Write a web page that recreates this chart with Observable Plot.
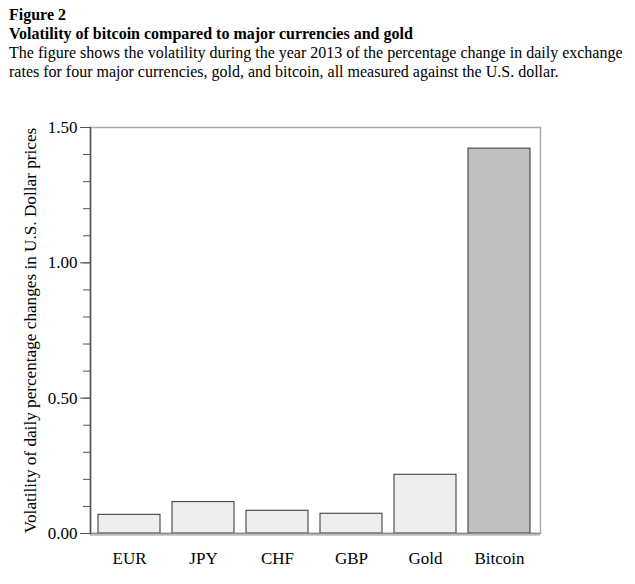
<!DOCTYPE html>
<html>
<head>
<meta charset="utf-8">
<script src="https://cdn.jsdelivr.net/npm/d3@7"></script>
<script src="https://cdn.jsdelivr.net/npm/@observablehq/plot@0.6"></script>
<style>
  body { margin: 0; background: #fff; font-family: "Liberation Serif", "Times New Roman", serif; color: #000; }
  #head { position: absolute; left: 9px; top: 5px; font-size: 16px; line-height: 19px; width: 626px; }
  #head .b { font-weight: bold; }
  #chart { position: absolute; left: 0; top: 100px; }
  #chart svg, #chart svg text { font-family: "Liberation Serif", "Times New Roman", serif !important; }
</style>
</head>
<body>
<div id="head">
  <div class="b">Figure 2</div>
  <div class="b">Volatility of bitcoin compared to major currencies and gold</div>
  <div>The figure shows the volatility during the year 2013 of the percentage change in daily exchange rates for four major currencies, gold, and bitcoin, all measured against the U.S. dollar.</div>
</div>
<div id="chart"></div>
<script>
const categories = ["EUR", "JPY", "CHF", "GBP", "Gold", "Bitcoin"];
const volatility = [0.069, 0.116, 0.084, 0.073, 0.217, 1.422];
const fills = ["#eeeeee", "#eeeeee", "#eeeeee", "#eeeeee", "#eeeeee", "#c0c0c0"];
const majorTicks = [0, 0.5, 1.0, 1.5];
const minorTicks = d3.range(0, 16).map(i => i / 10);
const yLabel = "Volatility of daily percentage changes in U.S. Dollar prices";

const data = categories.map((c, i) => ({category: c, value: volatility[i], fill: fills[i]}));
const serif = "'Liberation Serif', 'Times New Roman', serif";

const chart = Plot.plot({
  width: 635,
  height: 484,
  marginLeft: 90,
  marginRight: 95,
  marginTop: 27,
  marginBottom: 51,
  style: {fontFamily: serif, fontSize: "17px", color: "#000", background: "transparent"},
  x: {domain: categories, paddingInner: 0.166, paddingOuter: 0.085, align: 0.45, label: null},
  y: {domain: [0, 1.5], label: null},
  marks: [
    Plot.frame({stroke: "#aaa", strokeWidth: 1.5}),
    Plot.barY(data, {x: "category", y: "value", fill: "fill", stroke: "#333", strokeWidth: 1}),
    Plot.ruleY([0], {stroke: "#ccc", strokeWidth: 2, dy: 1.5}),
    Plot.ruleY([0], {stroke: "#888", strokeWidth: 1.5}),
    Plot.frame({anchor: "left", stroke: "#555", strokeWidth: 1.5}),
    Plot.axisY(minorTicks, {tickSize: 7, tickFormat: null, stroke: "#555", text: null}),
    Plot.axisY(majorTicks, {tickSize: 10, tickPadding: 3, tickFormat: d3.format(".2f"), stroke: "#555", fill: "#000", fontSize: 17, fontFamily: serif}),
    Plot.axisX({tickSize: 0, tickPadding: 18, fill: "#000", fontSize: 17, fontFamily: serif}),
    Plot.text([yLabel], {frameAnchor: "left", textAnchor: "middle", rotate: -90, dx: -60, fontSize: 17.2, fill: "#000", fontFamily: serif})
  ]
});
document.getElementById("chart").appendChild(chart);
</script>
</body>
</html>
